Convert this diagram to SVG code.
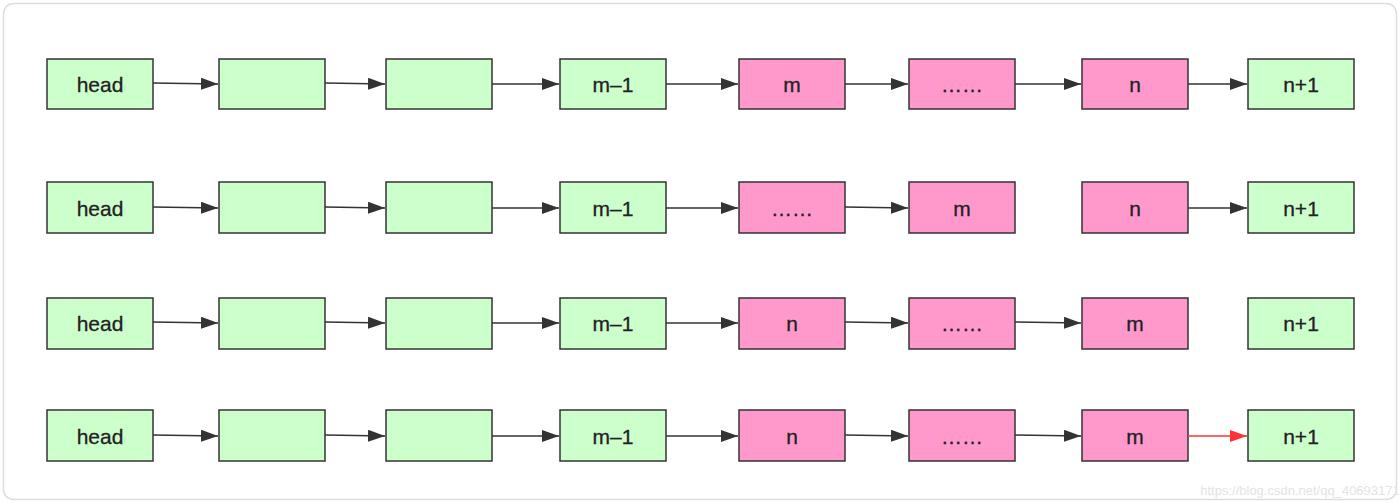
<svg xmlns="http://www.w3.org/2000/svg" width="1400" height="503" viewBox="0 0 1400 503">
<defs>
<marker id="ah" viewBox="0 0 17 12" refX="17" refY="6" markerWidth="17" markerHeight="12" markerUnits="userSpaceOnUse" orient="auto"><path d="M0,0 L17,6 L0,12 z" fill="#333"/></marker>
<marker id="ahr" viewBox="0 0 17 12" refX="17" refY="6" markerWidth="17" markerHeight="12" markerUnits="userSpaceOnUse" orient="auto"><path d="M0,0 L17,6 L0,12 z" fill="#f33"/></marker>
</defs>
<style>
.g{fill:#ccffcc;stroke:#333;stroke-width:1.5}
.p{fill:#ff99cc;stroke:#333;stroke-width:1.5}
text{font-family:"Liberation Sans",Arial,sans-serif;font-size:21px;fill:#222;text-anchor:middle;dominant-baseline:central;stroke:#222;stroke-width:0.3}
.e{fill:none;stroke:#333;stroke-width:1.5;marker-end:url(#ah)}
.r{fill:none;stroke:#f33;stroke-width:1.5;marker-end:url(#ahr)}
</style>
<rect x="0" y="0" width="1400" height="503" fill="#fff"/>
<rect x="3.5" y="3.5" width="1393" height="496" rx="10" fill="#fff" stroke="#ddd" stroke-width="1.5"/>

<!-- Row 1 -->
<g id="r1n1"><rect class="g" x="47" y="59" width="106" height="50"/><text x="100" y="84">head</text></g>
<g id="r1n2"><rect class="g" x="219" y="59" width="106" height="50"/></g>
<g id="r1n3"><rect class="g" x="386" y="59" width="106" height="50"/></g>
<g id="r1n4"><rect class="g" x="560" y="59" width="106" height="50"/><text x="613" y="84">m–1</text></g>
<g id="r1n5"><rect class="p" x="739" y="59" width="106" height="50"/><text x="792" y="84">m</text></g>
<g id="r1n6"><rect class="p" x="909" y="59" width="106" height="50"/><text x="962" y="84">……</text></g>
<g id="r1n7"><rect class="p" x="1082" y="59" width="106" height="50"/><text x="1135" y="84">n</text></g>
<g id="r1n8"><rect class="g" x="1248" y="59" width="106" height="50"/><text x="1301" y="84">n+1</text></g>

<!-- Row 2 -->
<g id="r2n1"><rect class="g" x="47" y="182" width="106" height="51"/><text x="100" y="208">head</text></g>
<g id="r2n2"><rect class="g" x="219" y="182" width="106" height="51"/></g>
<g id="r2n3"><rect class="g" x="386" y="182" width="106" height="51"/></g>
<g id="r2n4"><rect class="g" x="560" y="182" width="106" height="51"/><text x="613" y="208">m–1</text></g>
<g id="r2n5"><rect class="p" x="739" y="182" width="106" height="51"/><text x="792" y="208">……</text></g>
<g id="r2n6"><rect class="p" x="909" y="182" width="106" height="51"/><text x="962" y="208">m</text></g>
<g id="r2n7"><rect class="p" x="1082" y="182" width="106" height="51"/><text x="1135" y="208">n</text></g>
<g id="r2n8"><rect class="g" x="1248" y="182" width="106" height="51"/><text x="1301" y="208">n+1</text></g>

<!-- Row 3 -->
<g id="r3n1"><rect class="g" x="47" y="298" width="106" height="51"/><text x="100" y="323">head</text></g>
<g id="r3n2"><rect class="g" x="219" y="298" width="106" height="51"/></g>
<g id="r3n3"><rect class="g" x="386" y="298" width="106" height="51"/></g>
<g id="r3n4"><rect class="g" x="560" y="298" width="106" height="51"/><text x="613" y="323">m–1</text></g>
<g id="r3n5"><rect class="p" x="739" y="298" width="106" height="51"/><text x="792" y="323">n</text></g>
<g id="r3n6"><rect class="p" x="909" y="298" width="106" height="51"/><text x="962" y="323">……</text></g>
<g id="r3n7"><rect class="p" x="1082" y="298" width="106" height="51"/><text x="1135" y="323">m</text></g>
<g id="r3n8"><rect class="g" x="1248" y="298" width="106" height="51"/><text x="1301" y="323">n+1</text></g>

<!-- Row 4 -->
<g id="r4n1"><rect class="g" x="47" y="410" width="106" height="51"/><text x="100" y="436">head</text></g>
<g id="r4n2"><rect class="g" x="219" y="410" width="106" height="51"/></g>
<g id="r4n3"><rect class="g" x="386" y="410" width="106" height="51"/></g>
<g id="r4n4"><rect class="g" x="560" y="410" width="106" height="51"/><text x="613" y="436">m–1</text></g>
<g id="r4n5"><rect class="p" x="739" y="410" width="106" height="51"/><text x="792" y="436">n</text></g>
<g id="r4n6"><rect class="p" x="909" y="410" width="106" height="51"/><text x="962" y="436">……</text></g>
<g id="r4n7"><rect class="p" x="1082" y="410" width="106" height="51"/><text x="1135" y="436">m</text></g>
<g id="r4n8"><rect class="g" x="1248" y="410" width="106" height="51"/><text x="1301" y="436">n+1</text></g>

<g id="connectors">
<path class="e" d="M153,83 L218,84"/>
<path class="e" d="M325,83 L385,84"/>
<path class="e" d="M492,84 L559,84"/>
<path class="e" d="M666,84 L738,84"/>
<path class="e" d="M845,84 L908,84"/>
<path class="e" d="M1015,84 L1081,84"/>
<path class="e" d="M1188,84 L1247,84"/>

<path class="e" d="M153,207 L218,208"/>
<path class="e" d="M325,207 L385,208"/>
<path class="e" d="M492,208 L559,208"/>
<path class="e" d="M666,208 L738,208"/>
<path class="e" d="M845,207 L908,208"/>
<path class="e" d="M1188,208 L1247,208"/>

<path class="e" d="M153,322 L218,323"/>
<path class="e" d="M325,322 L385,323"/>
<path class="e" d="M492,323 L559,323"/>
<path class="e" d="M666,323 L738,323"/>
<path class="e" d="M845,322 L908,323"/>
<path class="e" d="M1015,322 L1081,323"/>

<path class="e" d="M153,435 L218,436"/>
<path class="e" d="M325,435 L385,436"/>
<path class="e" d="M492,436 L559,436"/>
<path class="e" d="M666,436 L738,436"/>
<path class="e" d="M845,435 L908,436"/>
<path class="e" d="M1015,435 L1081,436"/>
<path class="r" d="M1188,436 L1247,436"/>
</g>

<text x="1300" y="490" style="font-size:13px;fill:#e4e4e4;stroke:none;">https://blog.csdn.net/qq_40693171</text>
</svg>
